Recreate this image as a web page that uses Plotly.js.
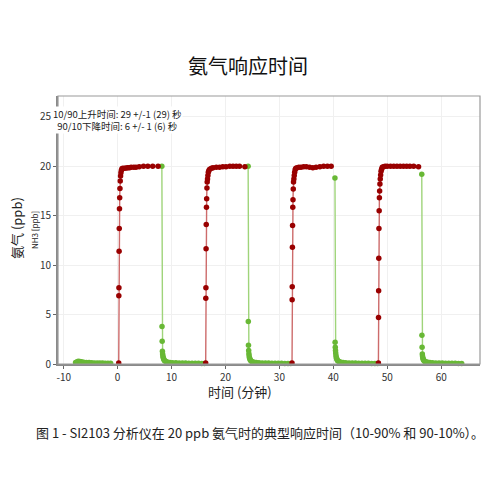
<!DOCTYPE html>
<html><head><meta charset="utf-8">
<script src="https://cdn.plot.ly/plotly-3.0.1.min.js"></script>
<style>html,body{margin:0;padding:0;background:#fff}#c{width:500px;height:500px}</style>
</head><body><div id="c"></div>
<script>
const titleText = "氨气响应时间";
const xTitle = "时间 (分钟)";
const yTitle = "氨气 (ppb)";
const yTitle2 = "NH3 [ppb]";
const noteText = "10/90上升时间: 29 +/-1 (29) 秒<br>90/10下降时间: 6 +/- 1 (6) 秒";
const captionText = "图 1 - SI2103 分析仪在 20 ppb 氨气时的典型响应时间（10-90% 和 90-10%）。";
const xTicks = [-10, 0, 10, 20, 30, 40, 50, 60];
const yTicks = [0, 5, 10, 15, 20, 25];

const green0T = [-7.8, -7.5, -7.3, -7.0, -6.7, -6.3, -5.8, -5.3, -4.8, -4.3, -3.8, -3.3, -2.8, -2.3, -1.8, -1.3];
const green0Y = [0.15, 0.22, 0.27, 0.26, 0.22, 0.18, 0.16, 0.14, 0.12, 0.11, 0.1, 0.09, 0.09, 0.08, 0.07, 0.07];

const rise1T = [0.2, 0.22, 0.24, 0.27, 0.3, 0.34, 0.38, 0.43, 0.48, 0.54, 0.61, 0.7, 0.8, 0.95, 1.3, 1.6, 1.9, 2.2, 2.5, 3.0, 3.4, 4.0, 4.8, 5.6, 6.5, 7.5];
const rise1Y = [0.1, 6.9, 7.7, 11.4, 13.7, 15.7, 16.8, 17.75, 18.5, 19.0, 19.35, 19.6, 19.75, 19.8, 19.8, 19.82, 19.85, 19.85, 19.9, 19.9, 19.9, 19.95, 20.0, 20.0, 20.0, 20.0];
const fall1T = [8.2, 8.23, 8.26, 8.3, 8.34, 8.39, 8.45, 8.52, 8.6, 8.7, 8.85, 9.05, 9.3, 9.7, 10.2, 10.8, 11.4, 12.0, 12.6, 13.2, 13.8, 14.4, 15.0, 15.6, 16.1];
const fall1Y = [20.0, 3.8, 2.3, 1.3, 1.0, 0.8, 0.65, 0.52, 0.42, 0.34, 0.28, 0.22, 0.18, 0.15, 0.13, 0.12, 0.1, 0.1, 0.09, 0.08, 0.08, 0.07, 0.07, 0.06, 0.05];

const rise2T = [16.33, 16.35, 16.37, 16.4, 16.43, 16.47, 16.51, 16.56, 16.61, 16.67, 16.74, 16.82, 16.92, 17.07, 17.4, 17.7, 18.3, 18.9, 19.5, 20.1, 20.8, 21.4, 22.0, 22.6, 23.6];
const rise2Y = [0.1, 6.65, 7.7, 11.65, 14.1, 15.85, 16.7, 17.8, 18.4, 18.7, 19.06, 19.4, 19.57, 19.7, 19.8, 19.85, 19.9, 19.9, 19.95, 19.95, 20.0, 20.0, 20.0, 20.0, 19.95];
const fall2T = [24.2, 24.23, 24.26, 24.3, 24.34, 24.39, 24.45, 24.52, 24.6, 24.7, 24.85, 25.05, 25.3, 25.7, 26.2, 26.8, 27.4, 28.0, 28.6, 29.2, 29.8, 30.4, 31.0, 31.6, 32.1];
const fall2Y = [20.0, 4.3, 1.9, 1.37, 1.03, 0.8, 0.62, 0.5, 0.4, 0.32, 0.26, 0.21, 0.17, 0.14, 0.12, 0.1, 0.1, 0.09, 0.08, 0.08, 0.07, 0.07, 0.06, 0.06, 0.05];

const rise3T = [32.34, 32.36, 32.38, 32.41, 32.44, 32.48, 32.52, 32.57, 32.62, 32.68, 32.75, 32.83, 32.93, 33.05, 33.3, 33.6, 34.0, 34.5, 35.0, 35.6, 36.2, 36.8, 37.5, 38.2, 38.9, 39.6];
const rise3Y = [0.1, 6.5, 7.8, 11.8, 14.0, 15.85, 16.6, 17.7, 18.4, 18.7, 19.06, 19.4, 19.67, 19.8, 19.85, 19.9, 19.9, 19.95, 19.95, 19.9, 19.85, 19.9, 19.95, 20.0, 20.0, 20.0];
const fall3T = [40.3, 40.33, 40.36, 40.4, 40.44, 40.49, 40.55, 40.62, 40.7, 40.8, 40.95, 41.15, 41.4, 41.8, 42.3, 42.9, 43.5, 44.1, 44.7, 45.3, 45.9, 46.5, 47.1, 47.7, 48.2];
const fall3Y = [18.8, 2.2, 1.7, 1.37, 1.1, 0.85, 0.66, 0.52, 0.42, 0.34, 0.27, 0.22, 0.18, 0.15, 0.13, 0.11, 0.1, 0.09, 0.08, 0.08, 0.07, 0.07, 0.06, 0.06, 0.05];

const rise4T = [48.36, 48.38, 48.4, 48.43, 48.46, 48.5, 48.54, 48.59, 48.64, 48.7, 48.77, 48.85, 48.95, 49.07, 49.3, 49.6, 50.0, 50.6, 51.2, 51.8, 52.4, 53.0, 53.6, 54.2, 54.9, 55.8];
const rise4Y = [0.1, 4.7, 7.4, 10.7, 13.7, 15.5, 16.8, 17.5, 18.2, 18.7, 19.1, 19.5, 19.7, 19.9, 19.95, 20.0, 20.0, 20.0, 20.0, 20.0, 20.0, 20.0, 20.0, 20.0, 20.0, 19.95];
const fall4T = [56.4, 56.43, 56.46, 56.5, 56.54, 56.59, 56.65, 56.72, 56.8, 56.9, 57.05, 57.25, 57.5, 57.9, 58.4, 59.0, 59.6, 60.2, 60.8, 61.4, 62.0, 62.6, 63.2, 63.8];
const fall4Y = [19.2, 2.9, 1.7, 1.0, 0.8, 0.62, 0.5, 0.42, 0.35, 0.29, 0.24, 0.2, 0.17, 0.14, 0.12, 0.1, 0.1, 0.09, 0.08, 0.08, 0.07, 0.07, 0.06, 0.06];

function join(segs) {
  const out = [];
  segs.forEach((s, i) => { if (i) out.push(null); out.push(...s); });
  return out;
}
const FONT = '"Noto Sans CJK SC", "Noto Sans", sans-serif';

const greenTrace = {
  x: join([green0T, fall1T, fall2T, fall3T, fall4T]),
  y: join([green0Y, fall1Y, fall2Y, fall3Y, fall4Y]),
  mode: 'lines+markers', connectgaps: false,
  line: {color: '#9fd47a', width: 1.4},
  marker: {color: '#68b835', size: 5.5},
  cliponaxis: false, hoverinfo: 'skip'
};
const redTrace = {
  x: join([rise1T, rise2T, rise3T, rise4T]),
  y: join([rise1Y, rise2Y, rise3Y, rise4Y]),
  mode: 'lines+markers', connectgaps: false,
  line: {color: '#cd6b6b', width: 1.4},
  marker: {color: '#990000', size: 5.5},
  cliponaxis: false, hoverinfo: 'skip'
};

const L = 58, R = 480, T = 96, B = 364;
const W = R - L, H = B - T;
const px = x => (x - L) / W;
const py = y => (B - y) / H;

const layout = {
  width: 500, height: 500,
  margin: {l: L, r: 500 - R, t: T, b: 500 - B},
  paper_bgcolor: '#fff', plot_bgcolor: '#fff',
  showlegend: false,
  font: {family: FONT, color: '#333', size: 10},
  title: {text: titleText, x: 0.496, xanchor: 'center', y: 1 - 67/500, yanchor: 'middle',
          font: {family: FONT, size: 20, color: '#111'}},
  xaxis: {range: [-11.06, 67.2], tickvals: xTicks, ticktext: xTicks.map(String),
          showgrid: true, gridcolor: '#f0f0f0', gridwidth: 1, zeroline: false,
          showline: true, linecolor: '#8a8a8a', linewidth: 2,
          ticks: 'outside', ticklen: 3, tickcolor: '#666', tickfont: {size: 10, color: '#333'}},
  yaxis: {range: [0, 27.1], tickvals: yTicks, ticktext: yTicks.map(String),
          showgrid: true, gridcolor: '#f0f0f0', gridwidth: 1, zeroline: false,
          showline: true, linecolor: '#8a8a8a', linewidth: 2,
          ticks: 'outside', ticklen: 3, tickcolor: '#666', tickfont: {size: 10, color: '#333'}},
  shapes: [{type: 'rect', xref: 'paper', yref: 'paper', x0: 0, x1: 1, y0: 0, y1: 1,
            line: {color: '#9a9a9a', width: 1.2}, fillcolor: 'rgba(0,0,0,0)', layer: 'above'}],
  annotations: [
    {xref: 'paper', yref: 'paper', x: px(52), y: py(120), xanchor: 'left', yanchor: 'middle',
     text: noteText, showarrow: false, align: 'center', bgcolor: '#fff', borderpad: 0,
     font: {family: FONT, size: 9.5, color: '#222'}},
    {xref: 'paper', yref: 'paper', x: px(16), y: py(228), xanchor: 'center', yanchor: 'middle',
     text: yTitle, textangle: -90, showarrow: false, font: {family: FONT, size: 13, color: '#222'}},
    {xref: 'paper', yref: 'paper', x: px(34), y: py(230), xanchor: 'center', yanchor: 'middle',
     text: yTitle2, textangle: -90, showarrow: false, font: {family: FONT, size: 8, color: '#222'}},
    {xref: 'paper', yref: 'paper', x: px(240), y: py(391), xanchor: 'center', yanchor: 'middle',
     text: xTitle, showarrow: false, font: {family: FONT, size: 13, color: '#222'}},
    {xref: 'paper', yref: 'paper', x: px(260), y: py(432), xanchor: 'center', yanchor: 'middle',
     text: captionText, showarrow: false, font: {family: FONT, size: 13, color: '#222'}}
  ]
};

Plotly.newPlot('c', [greenTrace, redTrace], layout, {staticPlot: true, displayModeBar: false});
</script>
</body></html>
